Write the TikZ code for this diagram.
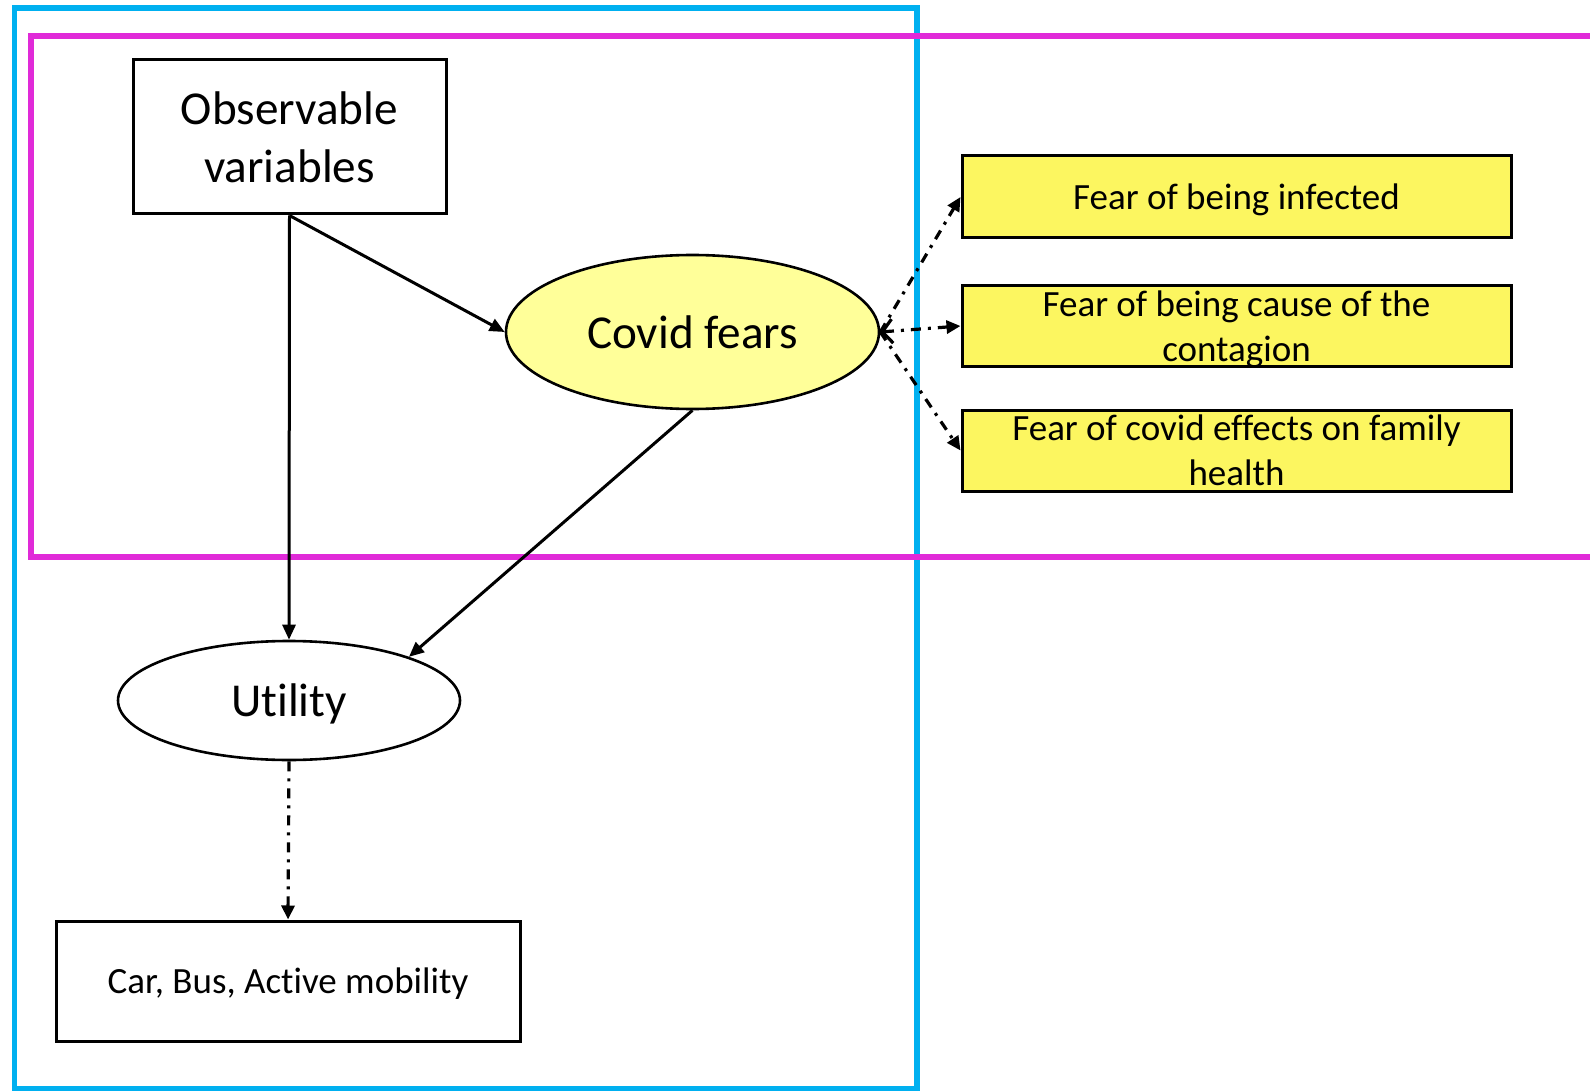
\documentclass[tikz,border=0pt]{standalone}
\usepackage{fontspec}
\setmainfont[Ligatures=NoCommon]{Carlito}
\usetikzlibrary{arrows.meta,shapes.geometric}
\definecolor{frameblue}{RGB}{0,176,240}
\definecolor{framemagenta}{RGB}{224,42,216}
\definecolor{boxyellow}{RGB}{252,246,96}
\definecolor{ovalyellow}{RGB}{255,255,153}
\tikzset{
  bigtext/.style={font=\fontsize{23.6}{28.8}\selectfont},
  smalltext/.style={font=\fontsize{18.5}{22.6}\selectfont},
  whitebox/.style={draw=black, line width=1.5pt, fill=white, inner sep=0pt, align=center, text depth=0pt},
  fearbox/.style={draw=black, line width=1.5pt, fill=boxyellow, inner sep=0pt, align=center,
    minimum width=274.5pt, smalltext, text depth=0pt},
  oval/.style={ellipse, draw=black, line width=1.3pt, inner sep=0pt, text depth=0pt},
  solidarrow/.style={line width=1.5pt, -{Triangle[length=7.5pt,width=6.5pt]}},
  dashdotarrow/.style={line width=1.6pt, dash pattern=on 5pt off 3.5pt on 1.5pt off 3.5pt,
    -{Triangle[length=7pt,width=6.5pt]}},
  frame/.style={line width=2.6pt}
}
\begin{document}
\begin{tikzpicture}[x=0.5pt,y=-0.5pt]
\clip (0,0) rectangle (1590,1091);
\fill[white] (0,0) rectangle (1590,1091);

% grouping frames
\draw[frame, draw=frameblue] (14.5,8) rectangle (917,1089);
\draw[frame, draw=framemagenta] (31,36) rectangle (1640,557);

% nodes
\node[whitebox, bigtext, minimum width=156.5pt, minimum height=77pt] (obs) at (289.5,137)
  {Observable\\variables};
\node[oval, fill=ovalyellow, bigtext, minimum width=186.5pt, minimum height=77pt] (cf) at (692.5,332)
  {Covid fears};
\node[oval, fill=white, bigtext, minimum width=171pt, minimum height=59.5pt] (ut) at (289,700.5)
  {Utility};
\node[whitebox, smalltext, minimum width=232pt, minimum height=60pt] (alt) at (288,981)
  {Car, Bus, Active mobility};

\node[fearbox, minimum height=41pt] (f1) at (1236.5,197) {Fear of being infected};
\node[fearbox, minimum height=40pt] (f2) at (1236.5,326) {Fear of being cause of the\\contagion};
\node[fearbox, minimum height=40.5pt] (f3) at (1236.5,450.5) {Fear of covid effects on family\\health};

% structural relations
\draw[solidarrow] (obs.south) -- (ut.north);
\draw[solidarrow] (obs.south) -- (cf.west);
\draw[solidarrow] (cf.south) -- (ut.20);

% measurement relations
\draw[dashdotarrow] (ut.south) -- (alt.north);
\draw[dashdotarrow] (cf.east) -- (f1.west);
\draw[dashdotarrow, {Straight Barb[length=5pt,width=12pt]}-{Triangle[length=7pt,width=6.5pt]}] (cf.east) -- (f2.west);
\draw[dashdotarrow] (cf.east) -- (f3.west);
\end{tikzpicture}
\end{document}
